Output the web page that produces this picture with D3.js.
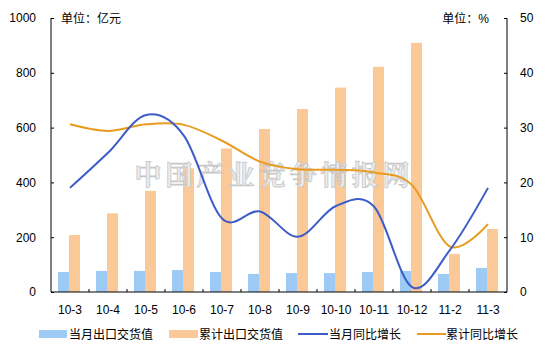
<!DOCTYPE html>
<html><head><meta charset="utf-8">
<script src="https://cdn.jsdelivr.net/npm/d3@7"></script>
<style>
body{margin:0;background:#fff;}
text{font-family:"Liberation Sans","Noto Sans CJK SC",Arial,sans-serif;}
</style></head>
<body><svg id="c" width="548" height="354"></svg>
<script>
const categories = ["10-3","10-4","10-5","10-6","10-7","10-8","10-9","10-10","10-11","10-12","11-2","11-3"];
const monthExport = [73,77,77,80,73,66,69,69,73,77,66,88];
const cumExport = [208,287,369,451,524,595,668,746,822,909,139,230];
const monthGrowth = [19.0,25.4,32.3,28.5,13.4,14.7,10.1,15.7,15.6,0.9,7.7,19.0];
const cumGrowth = [30.6,29.4,30.6,30.5,27.6,23.8,22.4,22.3,21.8,19.5,8.3,12.4];
const leftTicks = [0,200,400,600,800,1000];
const rightTicks = [0,10,20,30,40,50];
const seriesNames = ["当月出口交货值","累计出口交货值","当月同比增长","累计同比增长"];
const colors = ["#9DCBF5","#FBC897","#3D5CC8","#E89B1E"];

const svg = d3.select("#c");
const L = 51, R = 507, T = 18, B = 292;
const x = d3.scaleBand().domain(categories).range([L, R]).padding(0);
const xs = d3.scaleBand().domain(["m","c"]).range([7, 29]).padding(0);
const yL = d3.scaleLinear().domain([0,1000]).range([B, T]);
const yR = d3.scaleLinear().domain([0,50]).range([B, T]);

// bars
const g = svg.append("g");
categories.forEach((c,i)=>{
  g.append("rect").attr("x", x(c)+xs("m")).attr("y", yL(monthExport[i]))
    .attr("width", xs.bandwidth()).attr("height", yL(0)-yL(monthExport[i])).attr("fill", colors[0]);
  g.append("rect").attr("x", x(c)+xs("c")).attr("y", yL(cumExport[i]))
    .attr("width", xs.bandwidth()).attr("height", yL(0)-yL(cumExport[i])).attr("fill", colors[1]);
});

// watermark
svg.append("text").attr("x", 274).attr("y", 185).attr("text-anchor","middle")
  .attr("font-size", 27).attr("font-weight","bold").attr("letter-spacing", 4)
  .attr("fill","#ececec").attr("stroke","#c8c8c8").attr("stroke-width",0.8)
  .style("font-family","'Noto Serif CJK SC','Noto Sans CJK SC',serif")
  .text("中国产业竞争情报网");

// lines
const cx = c => x(c) + x.bandwidth()/2;
const line = d3.line().x(d=>cx(d.c)).y(d=>yR(d.v)).curve(d3.curveCatmullRom.alpha(0));
svg.append("path").datum(categories.map((c,i)=>({c,v:cumGrowth[i]})))
  .attr("d", line).attr("fill","none").attr("stroke", colors[3]).attr("stroke-width", 2);
svg.append("path").datum(categories.map((c,i)=>({c,v:monthGrowth[i]})))
  .attr("d", line).attr("fill","none").attr("stroke", colors[2]).attr("stroke-width", 2);

// axes
const left = svg.append("g").attr("transform",`translate(${L},0)`)
  .call(d3.axisLeft(yL).tickValues(leftTicks).tickSize(-3).tickPadding(15).tickFormat(d3.format("d")));
const right = svg.append("g").attr("transform",`translate(${R},0)`)
  .call(d3.axisRight(yR).tickValues(rightTicks).tickSize(-3).tickPadding(13).tickFormat(d3.format("d")));
const bottom = svg.append("g").attr("transform",`translate(0,${B})`)
  .call(d3.axisBottom(x).tickSize(0).tickPadding(13));
[left,right,bottom].forEach(a=>{
  a.select(".domain").remove();
  a.selectAll("line").attr("stroke","#000");
  a.selectAll("text").attr("font-size",12).attr("fill","#000")
    .style("font-family","'Liberation Sans',Arial,sans-serif");
});
// category tick marks at band edges (inward)
categories.slice(1).forEach(c=>{
  svg.append("line").attr("x1", x(c)).attr("x2", x(c)).attr("y1", B).attr("y2", B-3).attr("stroke","#000");
});
svg.append("line").attr("x1",L).attr("x2",L).attr("y1",T).attr("y2",B).attr("stroke","#000");
svg.append("line").attr("x1",R).attr("x2",R).attr("y1",T).attr("y2",B).attr("stroke","#000");
svg.append("line").attr("x1",L).attr("x2",R).attr("y1",B).attr("y2",B).attr("stroke","#000");

// unit labels
svg.append("text").attr("x",61).attr("y",23).attr("font-size",12).text("单位：亿元");
svg.append("text").attr("x",489).attr("y",23).attr("font-size",12).attr("text-anchor","end").text("单位：%");

// legend
const lg = svg.append("g");
const ly = 334;
lg.append("rect").attr("x",39).attr("y",ly-4).attr("width",28).attr("height",8).attr("fill",colors[0]);
lg.append("text").attr("x",69).attr("y",ly+4.5).attr("font-size",12).text(seriesNames[0]);
lg.append("rect").attr("x",169).attr("y",ly-4).attr("width",29).attr("height",8).attr("fill",colors[1]);
lg.append("text").attr("x",199).attr("y",ly+4.5).attr("font-size",12).text(seriesNames[1]);
lg.append("line").attr("x1",298).attr("x2",328).attr("y1",ly).attr("y2",ly).attr("stroke",colors[2]).attr("stroke-width",2);
lg.append("text").attr("x",329).attr("y",ly+4.5).attr("font-size",12).text(seriesNames[2]);
lg.append("line").attr("x1",417).attr("x2",446).attr("y1",ly).attr("y2",ly).attr("stroke",colors[3]).attr("stroke-width",2);
lg.append("text").attr("x",446).attr("y",ly+4.5).attr("font-size",12).text(seriesNames[3]);
</script></body></html>
